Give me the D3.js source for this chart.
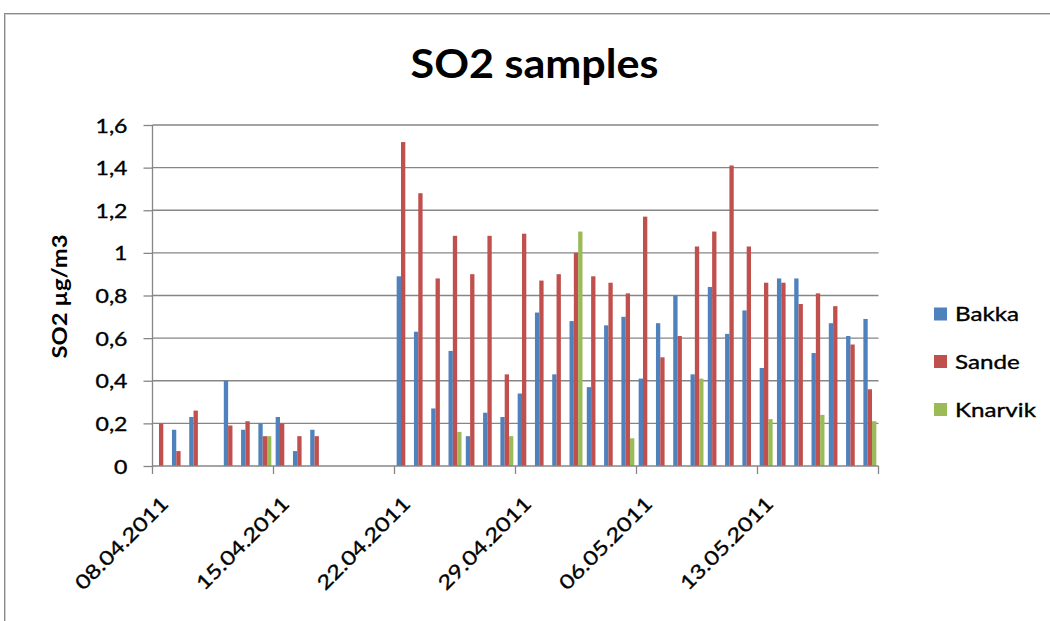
<!DOCTYPE html>
<html><head><meta charset="utf-8">
<script src="https://cdn.jsdelivr.net/npm/d3@7/dist/d3.min.js"></script>
<style>
body{margin:0;background:#fff;}
svg{display:block;}
text{font-family:Lato,"Open Sans",sans-serif;fill:#000;}
text.reg{stroke:#000;stroke-width:0.35px;}
</style>
</head><body>
<svg id="chart" width="1050" height="621"></svg>
<script>
const dates = ["08.04.2011","09.04.2011","10.04.2011","11.04.2011","12.04.2011","13.04.2011","14.04.2011",
  "15.04.2011","16.04.2011","17.04.2011","18.04.2011","19.04.2011","20.04.2011","21.04.2011",
  "22.04.2011","23.04.2011","24.04.2011","25.04.2011","26.04.2011","27.04.2011","28.04.2011",
  "29.04.2011","30.04.2011","01.05.2011","02.05.2011","03.05.2011","04.05.2011","05.05.2011",
  "06.05.2011","07.05.2011","08.05.2011","09.05.2011","10.05.2011","11.05.2011","12.05.2011",
  "13.05.2011","14.05.2011","15.05.2011","16.05.2011","17.05.2011","18.05.2011","19.05.2011"];
const seriesNames = ["Bakka","Sande","Knarvik"];
const bakka = [null,0.17,0.23,null,0.40,0.17,0.20, 0.23,0.07,0.17,null,null,null,null,
  0.89,0.63,0.27,0.54,0.14,0.25,0.23, 0.34,0.72,0.43,0.68,0.37,0.66,0.70,
  0.41,0.67,0.80,0.43,0.84,0.62,0.73, 0.46,0.88,0.88,0.53,0.67,0.61,0.69];
const sande = [0.20,0.07,0.26,null,0.19,0.21,0.14, 0.20,0.14,0.14,null,null,null,null,
  1.52,1.28,0.88,1.08,0.90,1.08,0.43, 1.09,0.87,0.90,1.00,0.89,0.86,0.81,
  1.17,0.51,0.61,1.03,1.10,1.41,1.03, 0.86,0.86,0.76,0.81,0.75,0.57,0.36];
const knarvik = [null,null,null,null,null,null,0.14, null,null,null,null,null,null,null,
  null,null,null,0.16,null,null,0.14, null,null,null,1.10,null,null,0.13,
  null,null,null,0.41,null,null,null, 0.22,null,null,0.24,null,null,0.21];
const xTickLabels = ["08.04.2011","15.04.2011","22.04.2011","29.04.2011","06.05.2011","13.05.2011"];
const yTicks = [0,0.2,0.4,0.6,0.8,1,1.2,1.4,1.6];
const yTickLabels = ["0","0,2","0,4","0,6","0,8","1","1,2","1,4","1,6"];
const colors = ["#4F81BD","#C0504D","#9BBB59"];
const title = "SO2 samples";
const yTitle = "SO2 µg/m3";

const series = [bakka, sande, knarvik];
const svg = d3.select("#chart");

// chart border
svg.append("rect").attr("x",4.5).attr("y",13.5).attr("width",1100).attr("height",700)
  .attr("fill","none").attr("stroke","#8a8a8a").attr("stroke-width",1);
svg.append("rect").attr("x",5.5).attr("y",14.5).attr("width",1100).attr("height",700)
  .attr("fill","none").attr("stroke","#d0d0d0").attr("stroke-width",1);

const x0 = 152.5, x1 = 878.5, yTop = 125, yBot = 466;
const x = d3.scaleBand().domain(dates).range([x0,x1]).paddingInner(0.25).paddingOuter(0.125);
const xs = d3.scaleBand().domain(seriesNames).range([0,x.bandwidth()]);
const y = d3.scaleLinear().domain([0,1.6]).range([yBot,yTop]);
const boundary = d => x(d) - x.step()*x.paddingInner()/2;

// gridlines
svg.append("g").selectAll("line").data(yTicks.slice(1)).join("line")
  .attr("x1",x0).attr("x2",x1).attr("y1",d=>y(d)).attr("y2",d=>y(d))
  .attr("stroke","#868686").attr("stroke-width",1.3);

// bars
seriesNames.forEach((name,si)=>{
  const pts = dates.map((d,i)=>({d, v: series[si][i]})).filter(p=>p.v!=null);
  svg.append("g").selectAll("rect").data(pts).join("rect")
    .attr("x",p=>x(p.d)+xs(name)).attr("width",xs.bandwidth())
    .attr("y",p=>y(p.v)).attr("height",p=>y(0)-y(p.v))
    .attr("fill",colors[si]);
});

// y axis
const yAxis = svg.append("g").attr("transform",`translate(${x0},0)`)
  .call(d3.axisLeft(y).tickValues(yTicks).tickFormat((d,i)=>yTickLabels[i]).tickSize(9).tickPadding(0));
yAxis.select(".domain").attr("stroke","#868686").attr("stroke-width",1.3).attr("d",`M0,${yTop}V${yBot}`);
yAxis.selectAll(".tick line").attr("stroke","#868686").attr("stroke-width",1.3);
const yt = yAxis.selectAll(".tick text").attr("class","reg").attr("x",0).attr("dy","0.37em")
  .style("font-size","19px").style("font-family","Lato").attr("fill","#000");
let sxY = 1;
yt.each(function(d,i){ if(i===8){ sxY = 32/this.getComputedTextLength(); }});
yt.attr("transform",`translate(-25,0) scale(${sxY},1)`);

// x axis
const xAxisG = svg.append("g");
xAxisG.append("line").attr("x1",x0).attr("x2",x1).attr("y1",yBot).attr("y2",yBot)
  .attr("stroke","#868686").attr("stroke-width",1.3);
const tickXs = xTickLabels.map(boundary).concat([x1]);
xAxisG.selectAll("line.t").data(tickXs).join("line").attr("class","t")
  .attr("x1",d=>d).attr("x2",d=>d).attr("y1",yBot).attr("y2",yBot+8)
  .attr("stroke","#868686").attr("stroke-width",1.3);
const xl = xAxisG.selectAll("text").data(xTickLabels).join("text").attr("class","reg")
  .attr("text-anchor","end").style("font-size","19.5px").text(d=>d);
let sxX = 1;
xl.each(function(d,i){ if(i===0){ sxX = 122/this.getComputedTextLength(); }});
xl.attr("transform",d=>`translate(${boundary(d)+17},505) rotate(-45) scale(${sxX},1)`);

// title
const t = svg.append("text").attr("text-anchor","middle").style("font-size","39.5px")
  .style("font-weight","bold").text(title);
const sxT = 248/t.node().getComputedTextLength();
t.attr("transform",`translate(534.5,78.3) scale(${sxT},1)`);

// y title
const yl = svg.append("text").attr("text-anchor","middle").style("font-size","21px")
  .style("font-weight","bold").text(yTitle);
const sxL = 124/yl.node().getComputedTextLength();
yl.attr("transform",`translate(66.5,296.5) rotate(-90) scale(${sxL},1)`);

// legend
const rows = [314,361.5,409.5];
const lg = svg.append("g");
lg.selectAll("rect").data(seriesNames).join("rect")
  .attr("x",934).attr("y",(d,i)=>rows[i]-6.5).attr("width",13).attr("height",13)
  .attr("fill",(d,i)=>colors[i]);
const lt = lg.selectAll("text").data(seriesNames).join("text").attr("class","reg")
  .style("font-size","19.5px").text(d=>d);
let sxG = 1;
lt.each(function(d,i){ if(i===2){ sxG = 81/this.getComputedTextLength(); }});
lt.attr("transform",(d,i)=>`translate(955,${rows[i]+7}) scale(${sxG},1)`);
</script>
</body></html>
